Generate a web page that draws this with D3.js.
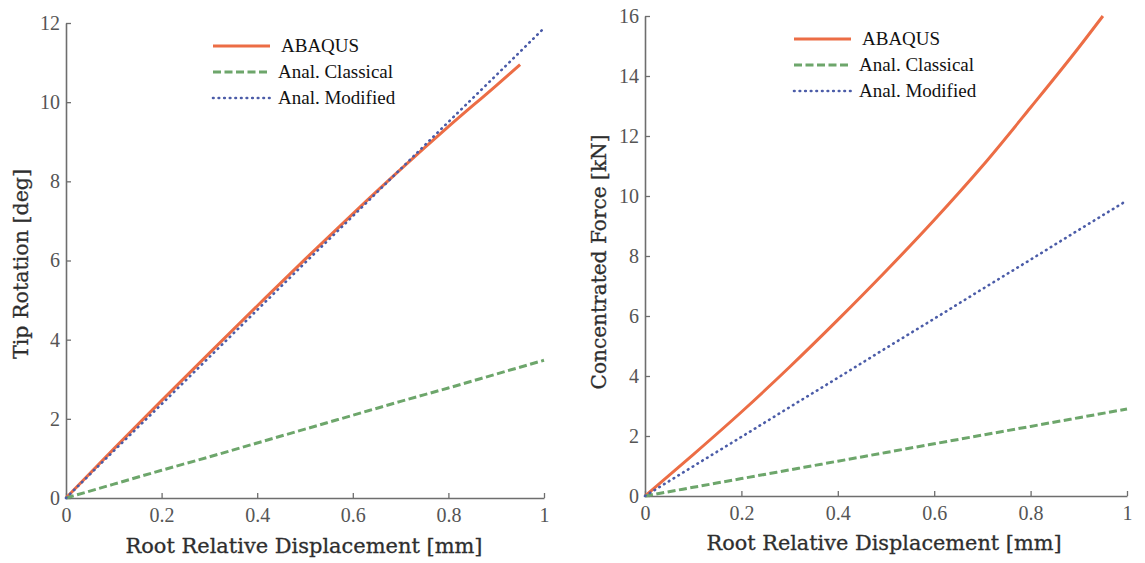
<!DOCTYPE html>
<html><head><meta charset="utf-8">
<script src="https://cdn.jsdelivr.net/npm/d3@7"></script>
<style>html,body{margin:0;padding:0;background:#fff;}svg{display:block;}</style>
</head><body>
<svg id="c" width="1145" height="563"></svg>
<script>
// ---- data ----
const seriesNames = ["ABAQUS", "Anal. Classical", "Anal. Modified"];
const dispX = [0, 0.1, 0.2, 0.3, 0.4, 0.5, 0.6, 0.7, 0.8, 0.9, 1.0];
const abaqusX = [0, 0.1, 0.2, 0.3, 0.4, 0.5, 0.6, 0.7, 0.8, 0.9, 0.95];
// left panel: tip rotation [deg]
const rotAbaqus = [0, 1.24, 2.46, 3.66, 4.85, 6.03, 7.18, 8.30, 9.38, 10.42, 10.95];
const rotClassical = [0, 0.35, 0.70, 1.04, 1.39, 1.74, 2.09, 2.44, 2.78, 3.13, 3.48];
const rotModified = [0, 1.19, 2.37, 3.56, 4.75, 5.94, 7.12, 8.31, 9.50, 10.68, 11.87];
// right panel: concentrated force [kN]
const forceAbaqus = [0, 1.38, 2.80, 4.30, 5.87, 7.50, 9.20, 11.00, 12.95, 14.95, 16.0];
const forceClassical = [0, 0.29, 0.58, 0.87, 1.16, 1.45, 1.74, 2.03, 2.32, 2.61, 2.90];
const forceModified = [0, 0.99, 1.97, 2.96, 3.94, 4.93, 5.91, 6.90, 7.88, 8.87, 9.85];
const xTicks = [0, 0.2, 0.4, 0.6, 0.8, 1];
const rotTicks = [0, 2, 4, 6, 8, 10, 12];
const forceTicks = [0, 2, 4, 6, 8, 10, 12, 14, 16];
const xTitle = "Root Relative Displacement [mm]";
const rotTitle = "Tip Rotation [deg]";
const forceTitle = "Concentrated Force [kN]";

const colors = ["#ec6d45", "#6da66b", "#4b5ca8"];
const styles = [
  {w: 3, dash: null, cap: "butt"},
  {w: 3, dash: "8,3.5", cap: "butt"},
  {w: 2.6, dash: "0.6,5", cap: "round"}
];

const svg = d3.select("#c");

function panel(cfg) {
  const g = svg.append("g");
  const x = d3.scaleLinear().domain([0, 1]).range(cfg.xr);
  const y = d3.scaleLinear().domain(cfg.yd).range(cfg.yr);
  const axisColor = "#6e6e6e";
  const tickFont = "'Liberation Serif', serif";

  // x axis
  const xa = g.append("g").attr("transform", `translate(0,${cfg.yr[0]})`)
    .call(d3.axisBottom(x).tickValues(xTicks).tickSizeInner(-5).tickSizeOuter(0)
      .tickFormat(d => d === 0 || d === 1 ? d3.format("d")(d) : d3.format(".1f")(d)));
  xa.select(".domain").attr("stroke", axisColor).attr("stroke-width", 1.6);
  xa.selectAll(".tick line").attr("stroke", axisColor).attr("stroke-width", 1.3);
  xa.selectAll(".tick text").attr("fill", "#555").attr("font-family", tickFont)
    .attr("font-size", 20).attr("y", 10).attr("dy", "0.71em");

  // y axis
  const ya = g.append("g").attr("transform", `translate(${cfg.xr[0]},0)`)
    .call(d3.axisLeft(y).tickValues(cfg.yt).tickSizeInner(-5).tickSizeOuter(0));
  ya.select(".domain").attr("stroke", axisColor).attr("stroke-width", 1.6);
  ya.selectAll(".tick line").attr("stroke", axisColor).attr("stroke-width", 1.3);
  ya.selectAll(".tick text").attr("fill", "#555").attr("font-family", tickFont)
    .attr("font-size", 20).attr("x", -6);

  // lines
  const line = d3.line().x(d => x(d[0])).y(d => y(d[1])).curve(d3.curveMonotoneX);
  cfg.series.forEach((s, i) => {
    const pts = s.xs.map((v, k) => [v, s.ys[k]]);
    g.append("path").datum(pts).attr("d", line).attr("fill", "none")
      .attr("stroke", colors[i]).attr("stroke-width", styles[i].w)
      .attr("stroke-linecap", styles[i].cap)
      .attr("stroke-dasharray", styles[i].dash);
  });

  // titles
  g.append("text").attr("x", cfg.xt[0]).attr("y", cfg.xt[1]).attr("text-anchor", "middle")
    .attr("font-family", "'DejaVu Serif', serif").attr("font-size", 21).attr("fill", "#2e2e2e")
    .attr("stroke", "#2e2e2e").attr("stroke-width", 0.3)
    .attr("textLength", cfg.xt[2]).attr("lengthAdjust", "spacingAndGlyphs").text(xTitle);
  g.append("text").attr("transform", `translate(${cfg.yt2[0]},${cfg.yt2[1]}) rotate(-90)`)
    .attr("text-anchor", "middle")
    .attr("font-family", "'DejaVu Serif', serif").attr("font-size", 21).attr("fill", "#2e2e2e")
    .attr("stroke", "#2e2e2e").attr("stroke-width", 0.3)
    .attr("textLength", cfg.yt2[2]).attr("lengthAdjust", "spacingAndGlyphs").text(cfg.ytitle);

  // legend
  const lg = g.append("g");
  seriesNames.forEach((n, i) => {
    const yy = cfg.leg.y[i];
    lg.append("line").attr("x1", cfg.leg.x1).attr("x2", cfg.leg.x2).attr("y1", yy).attr("y2", yy)
      .attr("stroke", colors[i]).attr("stroke-width", styles[i].w)
      .attr("stroke-linecap", styles[i].cap).attr("stroke-dasharray", styles[i].dash);
    lg.append("text").attr("x", i === 0 ? cfg.leg.tx + 3 : cfg.leg.tx).attr("y", yy).attr("dy", "0.33em")
      .attr("font-family", "'Liberation Serif', serif").attr("font-size", 19).attr("fill", "#111").text(n);
  });
}

panel({
  xr: [66, 544], yd: [0, 12], yr: [498, 23], yt: rotTicks,
  series: [
    {xs: abaqusX, ys: rotAbaqus},
    {xs: dispX, ys: rotClassical},
    {xs: dispX, ys: rotModified}
  ],
  xt: [304, 553, 357], yt2: [28, 264, 190], ytitle: rotTitle,
  leg: {x1: 213, x2: 270, tx: 278, y: [46, 72, 98]}
});
panel({
  xr: [645, 1127], yd: [0, 16], yr: [496, 16], yt: forceTicks,
  series: [
    {xs: abaqusX, ys: forceAbaqus},
    {xs: dispX, ys: forceClassical},
    {xs: dispX, ys: forceModified}
  ],
  xt: [884, 550, 355], yt2: [606, 262, 255], ytitle: forceTitle,
  leg: {x1: 794, x2: 851, tx: 859, y: [39, 65, 91]}
});
</script>
</body></html>
